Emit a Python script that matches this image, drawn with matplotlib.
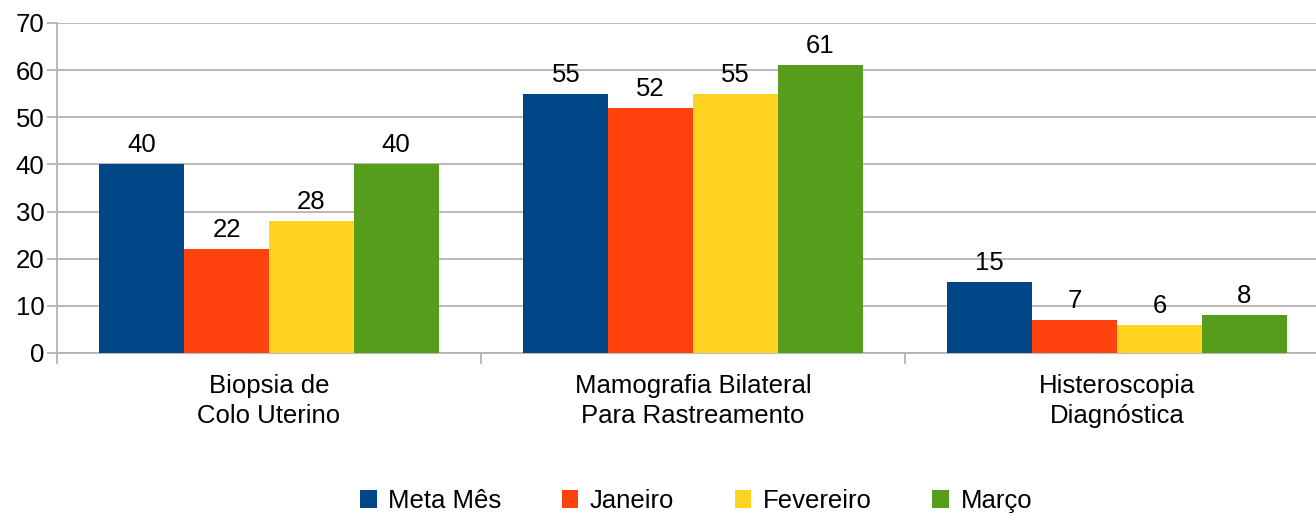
import matplotlib
matplotlib.use("Agg")
import matplotlib.pyplot as plt
import numpy as np

categories = ["Biopsia de\nColo Uterino", "Mamografia Bilateral\nPara Rastreamento", "Histeroscopia\nDiagnóstica"]
series_names = ["Meta Mês", "Janeiro", "Fevereiro", "Março"]
meta_mes = [40, 55, 15]
janeiro = [22, 52, 7]
fevereiro = [28, 55, 6]
marco = [40, 61, 8]
colors = ["#004586", "#ff420e", "#ffd320", "#579d1c"]

plt.rcParams["font.family"] = ["Liberation Sans", "DejaVu Sans"]
FS = 18.5

W, H = 1316, 515
fig = plt.figure(figsize=(W / 100, H / 100), dpi=100)
# plot area runs past the right edge of the image, as in the reference
left, right, top, bottom = 57, 1329, 23, 353
ax = fig.add_axes([left / W, 1 - bottom / H, (right - left) / W, (bottom - top) / H])

x = np.arange(len(categories))
width = 0.2
all_series = [meta_mes, janeiro, fevereiro, marco]
for i, (name, vals) in enumerate(zip(series_names, all_series)):
    pos = x + (i - 1.5) * width
    bars = ax.bar(pos, vals, width, color=colors[i], label=name, zorder=3, linewidth=0)
    for b, v in zip(bars, vals):
        ax.annotate(str(v), (b.get_x() + b.get_width() / 2, v), xytext=(0, 5),
                    textcoords="offset points", ha="center", va="bottom", fontsize=FS)

ax.set_xlim(-0.5, 2.5)
ax.set_ylim(0, 70)
ax.set_yticks(range(0, 71, 10))
ax.yaxis.grid(True, color="#b3b3b3", linewidth=1.3, zorder=0)
ax.set_axisbelow(True)

ax.set_xticks([-0.5, 0.5, 1.5, 2.5])
ax.set_xticklabels([])
ax.set_xticks(x, minor=True)
ax.set_xticklabels(categories, minor=True, fontsize=FS, linespacing=1.35)
ax.tick_params(axis="x", which="minor", length=0, pad=15)
ax.tick_params(axis="x", which="major", length=8, color="#b3b3b3", width=1.3)
ax.tick_params(axis="y", length=7, color="#b3b3b3", width=1.3, labelsize=FS, pad=2)

for s in ["top", "right"]:
    ax.spines[s].set_visible(False)
for s in ["left", "bottom"]:
    ax.spines[s].set_color("#b3b3b3")
    ax.spines[s].set_linewidth(1.3)

fig.legend(loc="center", bbox_to_anchor=(696 / W, 1 - 501 / H), ncol=4, frameon=False,
           fontsize=FS, handlelength=0.65, handleheight=0.65, handletextpad=0.45,
           columnspacing=2.35)

fig.savefig("out.png", dpi=100)
